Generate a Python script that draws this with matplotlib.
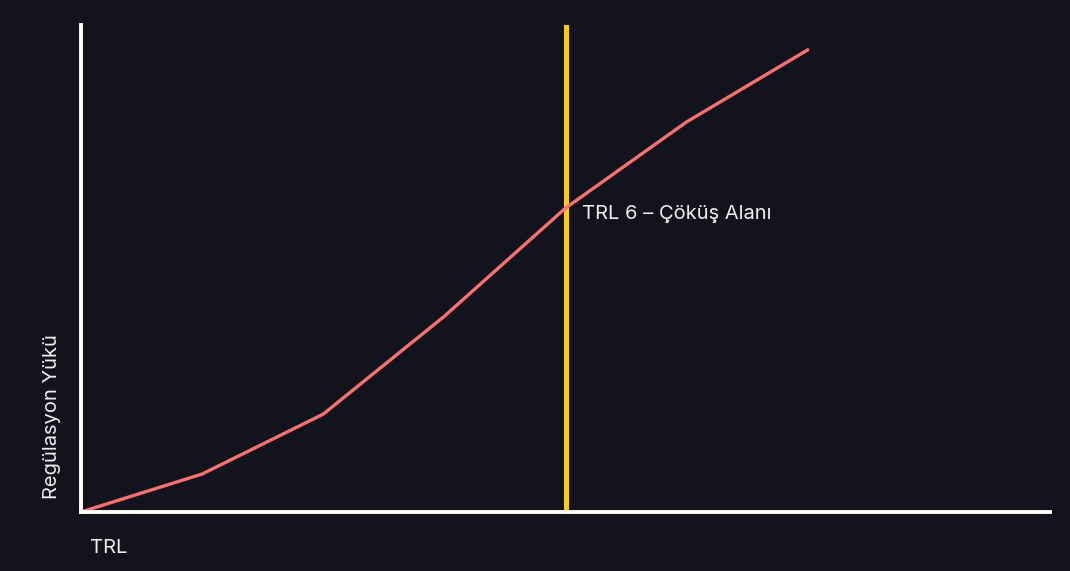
import matplotlib
matplotlib.use('Agg')
import matplotlib.pyplot as plt

# TRL levels and regulation load (relative units)
trl = [2, 3, 4, 5, 6, 7, 8]
load = [0, 7.8, 20.1, 40.2, 62.4, 80.1, 94.9]
collapse_trl = 6
collapse_label = 'TRL 6 – Çöküş Alanı'

BG = '#12131c'
plt.rcParams['font.family'] = ['Inter', 'DejaVu Sans']

fig = plt.figure(figsize=(10.7, 5.71), dpi=100, facecolor=BG)
W, H = 1070, 571
ax = fig.add_axes([81 / W, 1 - 512 / H, (1050 - 81) / W, (512 - 25) / H])
ax.set_facecolor(BG)

ax.plot(trl, load, color='#f87171', lw=2.4, solid_capstyle='round', zorder=3)
ax.axvline(collapse_trl, color='#facc15', lw=3.6, zorder=2)
ax.text(collapse_trl + 0.14, 61.2, collapse_label, color='#eeeeee',
        fontsize=14.5, va='center', ha='left')

ax.set_xlim(2, 10.0)
ax.set_ylim(0, 100)
ax.set_xticks([]); ax.set_yticks([])
for s in ['top', 'right']:
    ax.spines[s].set_visible(False)
for s in ['left', 'bottom']:
    ax.spines[s].set_color('white')
    ax.spines[s].set_linewidth(2.8)
    ax.spines[s].set_zorder(4)

fig.text(90 / W, 1 - 548 / H, 'TRL', color='#eeeeee', fontsize=14.5, va='center', ha='left')
fig.text(52 / W, 1 - 417 / H, 'Regülasyon Yükü', color='#eeeeee', fontsize=14.5,
         rotation=90, va='center', ha='center')

fig.savefig('out.png', dpi=100, facecolor=BG)
